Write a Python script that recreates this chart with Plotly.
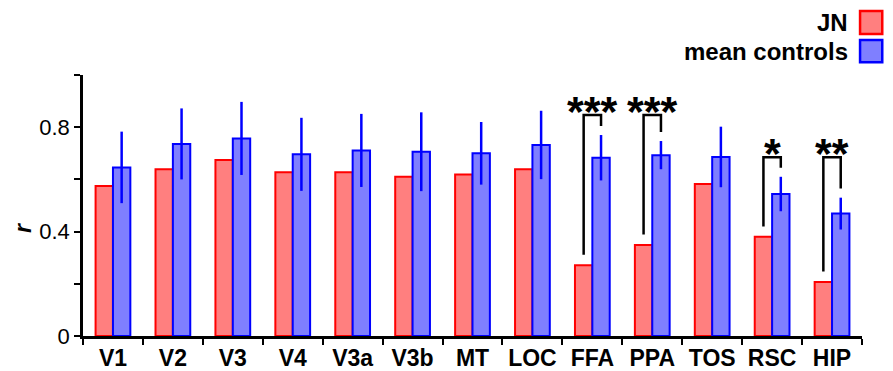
import plotly.graph_objects as go

# ---- data ----
regions = ["V1", "V2", "V3", "V4", "V3a", "V3b", "MT", "LOC", "FFA", "PPA", "TOS", "RSC", "HIP"]
jn_values = [0.575, 0.639, 0.674, 0.627, 0.627, 0.610, 0.619, 0.639, 0.271, 0.349, 0.582, 0.380, 0.207]
control_means = [0.646, 0.736, 0.757, 0.696, 0.711, 0.706, 0.700, 0.732, 0.683, 0.693, 0.686, 0.544, 0.469]
control_errors = [0.137, 0.136, 0.140, 0.140, 0.140, 0.151, 0.120, 0.131, 0.087, 0.054, 0.116, 0.066, 0.061]
sig_labels = ["", "", "", "", "", "", "", "", "***", "***", "", "*", "**"]
bracket_tops = [None, None, None, None, None, None, None, None, 0.847, 0.847, None, 0.685, 0.685]
y_tickvals = [0, 0.2, 0.4, 0.6, 0.8, 1.0]
y_ticktext = ["0", "", "0.4", "", "0.8", ""]

FONT = "Liberation Sans, Arial, Helvetica, sans-serif"
RED_FILL, RED_LINE = "#FF7F7F", "#FF0000"
BLUE_FILL, BLUE_LINE = "#7F7FFF", "#0000FF"

fig = go.Figure()
fig.add_trace(go.Bar(
    x=regions, y=jn_values, name="JN",
    marker=dict(color=RED_FILL, line=dict(color=RED_LINE, width=2)),
    showlegend=False,
))
fig.add_trace(go.Bar(
    x=regions, y=control_means, name="mean controls",
    marker=dict(color=BLUE_FILL, line=dict(color=BLUE_LINE, width=2)),
    error_y=dict(type="data", array=control_errors, color=BLUE_LINE, thickness=2.5, width=0),
    showlegend=False,
))

bargap = 0.42
half = (1 - bargap) / 4  # center offset of each bar within the group

shapes = []
annotations = []
for i, lab in enumerate(sig_labels):
    if not lab:
        continue
    top = bracket_tops[i]
    xl, xr = i - half, i + half
    yl = jn_values[i] + 0.04
    yr = control_means[i] + control_errors[i] + 0.035
    shapes.append(dict(
        type="path", xref="x", yref="y",
        path=f"M {xl},{yl} L {xl},{top} L {xr},{top} L {xr},{yr}",
        line=dict(color="black", width=2.5),
    ))
    annotations.append(dict(
        x=i, y=top + 0.015, xref="x", yref="y", text=f"<b>{lab}</b>", showarrow=False,
        xanchor="center", yanchor="middle",
        font=dict(family=FONT, size=43, color="black"),
    ))

# custom legend (labels left of swatches)
leg_items = [("JN", RED_FILL, RED_LINE, 1.200, 1.157, 1.245),
             ("mean controls", BLUE_FILL, BLUE_LINE, 1.089, 1.049, 1.134)]
for name, fill, line, ty, y0, y1 in leg_items:
    annotations.append(dict(
        x=0.9846, y=ty, xref="paper", yref="paper", text=f"<b>{name}</b>",
        showarrow=False, xanchor="right", yanchor="middle",
        font=dict(family=FONT, size=24, color="black"),
    ))
    shapes.append(dict(
        type="rect", xref="paper", yref="paper", x0=0.9975, x1=1.026, y0=y0, y1=y1,
        fillcolor=fill, line=dict(color=line, width=2.5),
    ))

annotations.append(dict(
    x=-0.077, y=0.414, xref="paper", yref="paper", text="<b><i>r</i></b>",
    showarrow=False, textangle=-90, xanchor="center", yanchor="middle",
    font=dict(family=FONT, size=23, color="black"),
))

# page body has an 8px default margin, so the figure is 8px smaller
fig.update_layout(
    width=885, height=363,
    margin=dict(l=75, r=31, t=67, b=35, autoexpand=False),
    paper_bgcolor="white", plot_bgcolor="white",
    barmode="group", bargap=bargap, bargroupgap=0,
    shapes=shapes, annotations=annotations,
    font=dict(family=FONT, color="black"),
)
fig.update_xaxes(
    type="category", tickson="boundaries", ticks="outside", ticklen=6, tickwidth=2,
    tickcolor="black", showline=True, linecolor="black", linewidth=2.5,
    showgrid=False, zeroline=False, automargin=False, tickangle=0,
    tickfont=dict(family=FONT, size=23, color="black", weight="bold"),
)
fig.update_yaxes(
    range=[0, 1.0], tickvals=y_tickvals, ticktext=y_ticktext,
    ticks="outside", ticklen=6, tickwidth=2, tickcolor="black",
    showline=True, linecolor="black", linewidth=2.5,
    showgrid=False, zeroline=False, automargin=False,
    tickfont=dict(family=FONT, size=22, color="black"),
)

fig.write_html("out.html")
